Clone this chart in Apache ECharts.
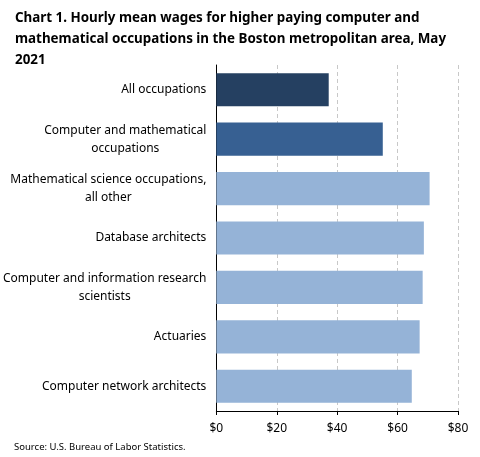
<!DOCTYPE html>
<html>
<head>
<meta charset="utf-8">
<script src="https://cdn.jsdelivr.net/npm/echarts@6/dist/echarts.min.js"></script>
<style>
  html, body { margin: 0; padding: 0; background: #fff; }
  #chart { width: 480px; height: 457px; }
</style>
</head>
<body>
<div id="chart"></div>
<script>
// occupations, top to bottom as shown
const occupations = [
  'All occupations',
  'Computer and mathematical\noccupations',
  'Mathematical science occupations,\nall other',
  'Database architects',
  'Computer and information research\nscientists',
  'Actuaries',
  'Computer network architects'
];
const wages = [37.2, 55.1, 70.6, 68.7, 68.3, 67.3, 64.7];
const barColors = ['#254061', '#376092', '#95b3d7', '#95b3d7', '#95b3d7', '#95b3d7', '#95b3d7'];
const wageTicks = [0, 20, 40, 60, 80];

const chart = echarts.init(document.getElementById('chart'));

chart.setOption({
  animation: false,
  title: {
    text: 'Chart 1. Hourly mean wages for higher paying computer and\nmathematical occupations in the Boston metropolitan area, May\n2021',
    left: 10,
    top: 3,
    textStyle: {
      fontFamily: 'Noto Sans',
      fontWeight: 'bold',
      fontSize: 13.4,
      lineHeight: 21,
      color: '#000'
    }
  },
  graphic: [{
    type: 'text',
    left: 14,
    top: 442,
    style: {
      text: 'Source: U.S. Bureau of Labor Statistics.',
      font: '9.5px "Noto Sans"',
      fill: '#000'
    }
  }],
  grid: { left: 216, right: 22, top: 65, bottom: 46 },
  xAxis: {
    type: 'value',
    min: wageTicks[0],
    max: wageTicks[wageTicks.length - 1],
    interval: 20,
    axisLine: { show: true, lineStyle: { color: '#000' } },
    axisTick: { show: true, length: 4, lineStyle: { color: '#000' } },
    axisLabel: {
      formatter: v => '$' + v,
      fontFamily: 'Noto Sans',
      fontSize: 12,
      color: '#000',
      margin: 12
    },
    splitLine: { show: true, lineStyle: { color: '#c8c8c8', type: [4, 3] } }
  },
  yAxis: {
    type: 'category',
    inverse: true,
    data: occupations,
    axisLine: { show: true, lineStyle: { color: '#000' } },
    axisTick: { show: false },
    axisLabel: {
      margin: 10,
      align: 'right',
      color: '#000',
      fontFamily: 'Noto Sans',
      fontSize: 12,
      lineHeight: 18,
      formatter: v => v.split('\n').map(s => '{c|' + s + '}').join('\n'),
      rich: {
        c: { align: 'center', fontFamily: 'Noto Sans', fontSize: 12, lineHeight: 18, color: '#000' }
      }
    }
  },
  series: [{
    type: 'bar',
    data: wages.map((v, i) => ({ value: v, itemStyle: { color: barColors[i] } })),
    barWidth: '67%'
  }]
});
</script>
</body>
</html>
